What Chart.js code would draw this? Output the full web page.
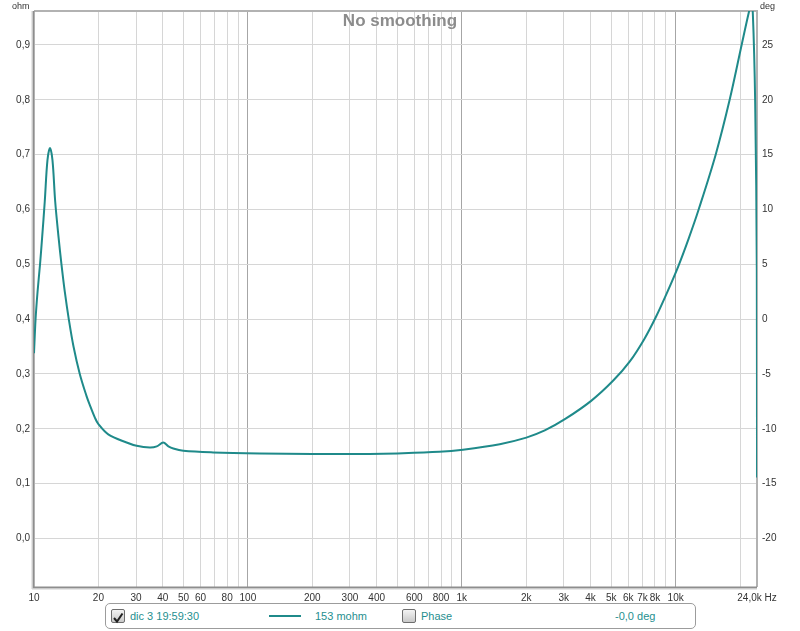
<!DOCTYPE html>
<html><head><meta charset="utf-8">
<script src="https://cdn.jsdelivr.net/npm/chart.js@4.4.0/dist/chart.umd.min.js"></script>
<style>
html,body{margin:0;padding:0;background:#fff;}
#wrap{position:relative;width:800px;height:631px;overflow:hidden;font-family:"Liberation Sans",Arial,sans-serif;}
#c{position:absolute;left:0;top:0;}
.ov{position:absolute;white-space:nowrap;}
#title{left:0;width:800px;top:11px;text-align:center;font-weight:bold;font-size:17px;line-height:20px;color:#8c8c8c;}
.unit{font-size:9px;color:#333;line-height:10px;top:1px;}
#legend{left:105px;top:603px;width:589px;height:24px;border:1px solid #9c9c9c;border-radius:5px;background:#fff;}
.cb{width:12px;height:12px;border:1px solid #6e6e6e;border-radius:2px;background:linear-gradient(#f4f4f4,#c9c9c9);top:609px;}
.lt{font-size:11px;line-height:13px;top:610px;color:#1f8f8f;}
#sample{left:269px;top:615px;width:32px;height:2px;background:#1f8a8a;}
</style></head>
<body><div id="wrap">
<canvas id="c" width="800" height="631"></canvas>
<div class="ov" id="title">No smoothing</div>
<div class="ov unit" style="left:12px;">ohm</div>
<div class="ov unit" style="left:760px;">deg</div>
<div class="ov" id="legend"></div>
<div class="ov cb" style="left:111px;"><svg width="12" height="12" viewBox="0 0 12 12"><path d="M2 6 L5 9.5 L10.5 1.5" stroke="#222" stroke-width="2" fill="none"/></svg></div>
<div class="ov lt" style="left:130px;">dic 3 19:59:30</div>
<div class="ov" id="sample"></div>
<div class="ov lt" style="left:315px;">153 mohm</div>
<div class="ov cb" style="left:402px;"></div>
<div class="ov lt" style="left:421px;">Phase</div>
<div class="ov lt" style="left:615px;">-0,0 deg</div>
</div>
<script>
// Frequency (Hz) and impedance (ohm)
const freqHz = [10, 10.17, 10.39, 10.67, 10.92, 11.23, 11.56, 11.88, 12.20, 12.56, 13.02, 13.44, 13.93, 14.54, 15.30, 16.37, 17.59, 18.17, 19.28, 19.97, 22.24, 27.1, 30.2, 34.8, 37.5, 40.2, 42.5, 44.8, 49.9, 68.8, 113.7, 200, 370, 500, 785, 1013, 1505, 2003, 2443, 3046, 4026, 5107, 6105, 7138, 8080, 9078, 10273, 11500, 12806, 15380, 17880, 20340, 22000, 22540, 22950, 23530, 23950, 24000];
const impedanceOhm = [0.338, 0.40, 0.45, 0.50, 0.55, 0.615, 0.69, 0.712, 0.69, 0.615, 0.55, 0.50, 0.45, 0.40, 0.35, 0.30, 0.26, 0.245, 0.22, 0.209, 0.19, 0.175, 0.169, 0.166, 0.168, 0.175, 0.168, 0.164, 0.160, 0.157, 0.155, 0.154, 0.154, 0.155, 0.158, 0.162, 0.172, 0.184, 0.197, 0.218, 0.251, 0.288, 0.323, 0.364, 0.404, 0.447, 0.496, 0.547, 0.600, 0.700, 0.800, 0.900, 0.960, 0.975, 0.957, 0.796, 0.493, 0.111];

const xGridValues = [10,20,30,40,50,60,70,80,90,100,200,300,400,500,600,700,800,900,1000,2000,3000,4000,5000,6000,7000,8000,9000,10000,20000,24000];
const xMajorValues = [100,1000,10000];
const xLabelValues = [10,20,30,40,50,60,80,100,200,300,400,600,800,1000,2000,3000,4000,5000,6000,7000,8000,10000,24000];
const xLabelTexts = ['10','20','30','40','50','60','80','100','200','300','400','600','800','1k','2k','3k','4k','5k','6k','7k','8k','10k','24,0k Hz'];
const ohmTicks = [0,0.1,0.2,0.3,0.4,0.5,0.6,0.7,0.8,0.9];
const ohmLabels = ['0,0','0,1','0,2','0,3','0,4','0,5','0,6','0,7','0,8','0,9'];
const degTicks = [-20,-15,-10,-5,0,5,10,15,20,25];
const degLabels = ['-20','-15','-10','-5','0','5','10','15','20','25'];

const OHM_MIN = -0.0885, OHM_MAX = 0.962;
const DEG_MIN = (OHM_MIN - 0.4) * 50, DEG_MAX = (OHM_MAX - 0.4) * 50;

const tickFont = {family: '"Liberation Sans", Arial, sans-serif', size: 10};

const frame = {
  id: 'frame',
  beforeDatasetsDraw(chart) {
    const a = chart.chartArea, c = chart.ctx;
    c.save();
    c.strokeStyle = '#b2b2b2'; c.lineWidth = 2;
    c.beginPath(); c.moveTo(a.left, a.top); c.lineTo(a.right, a.top); c.lineTo(a.right, a.bottom); c.stroke();
    c.strokeStyle = '#8e8e8e'; c.lineWidth = 2;
    c.beginPath(); c.moveTo(a.left - 0.5, a.top); c.lineTo(a.left - 0.5, a.bottom + 0.5); c.lineTo(a.right, a.bottom + 0.5); c.stroke();
    c.strokeStyle = '#cfcfcf'; c.lineWidth = 1;
    c.beginPath(); c.moveTo(a.left - 2, a.top); c.lineTo(a.left - 2, a.bottom + 2); c.lineTo(a.right, a.bottom + 2); c.stroke();
    c.restore();
  }
};

new Chart(document.getElementById('c'), {
  type: 'line',
  data: {
    datasets: [{
      data: freqHz.map((f, i) => ({x: f, y: impedanceOhm[i]})),
      borderColor: '#1f8a8a',
      borderWidth: 2,
      pointRadius: 0,
      tension: 0.35,
      fill: false,
      yAxisID: 'y'
    }]
  },
  options: {
    responsive: false,
    animation: false,
    events: [],
    layout: {padding: {top: 11, left: 0, right: 0, bottom: 0}},
    plugins: {legend: {display: false}, tooltip: {enabled: false}, title: {display: false}},
    scales: {
      x: {
        type: 'logarithmic', min: 10, max: 24000,
        afterBuildTicks: s => { s.ticks = xGridValues.map(v => ({value: v})); },
        afterFit: s => { s.height = 44; s.paddingLeft = 0; s.paddingRight = 0; },
        grid: {
          drawTicks: false, lineWidth: 1,
          color: ctx => (ctx.tick && xMajorValues.includes(ctx.tick.value)) ? '#a6a6a6' : '#d6d6d6'
        },
        border: {display: false},
        ticks: {
          autoSkip: false, maxRotation: 0, minRotation: 0, padding: 5,
          color: '#333', font: tickFont,
          callback: v => { const i = xLabelValues.indexOf(v); return i >= 0 ? xLabelTexts[i] : ''; }
        }
      },
      y: {
        type: 'linear', position: 'left', min: OHM_MIN, max: OHM_MAX,
        afterBuildTicks: s => { s.ticks = ohmTicks.map(v => ({value: v})); },
        afterFit: s => { s.width = 34; s.paddingTop = 0; s.paddingBottom = 0; },
        grid: {drawTicks: false, color: '#d6d6d6', lineWidth: 1},
        border: {display: false},
        ticks: {
          padding: 4, color: '#333', font: tickFont,
          callback: v => { const i = ohmTicks.findIndex(t => Math.abs(t - v) < 1e-6); return i >= 0 ? ohmLabels[i] : ''; }
        }
      },
      y2: {
        type: 'linear', position: 'right', min: DEG_MIN, max: DEG_MAX,
        afterBuildTicks: s => { s.ticks = degTicks.map(v => ({value: v})); },
        afterFit: s => { s.width = 43; s.paddingTop = 0; s.paddingBottom = 0; },
        grid: {drawOnChartArea: false, drawTicks: false},
        border: {display: false},
        ticks: {
          padding: 5, color: '#333', font: tickFont,
          callback: v => { const i = degTicks.indexOf(v); return i >= 0 ? degLabels[i] : ''; }
        }
      }
    }
  },
  plugins: [frame]
});
</script>
</body></html>
